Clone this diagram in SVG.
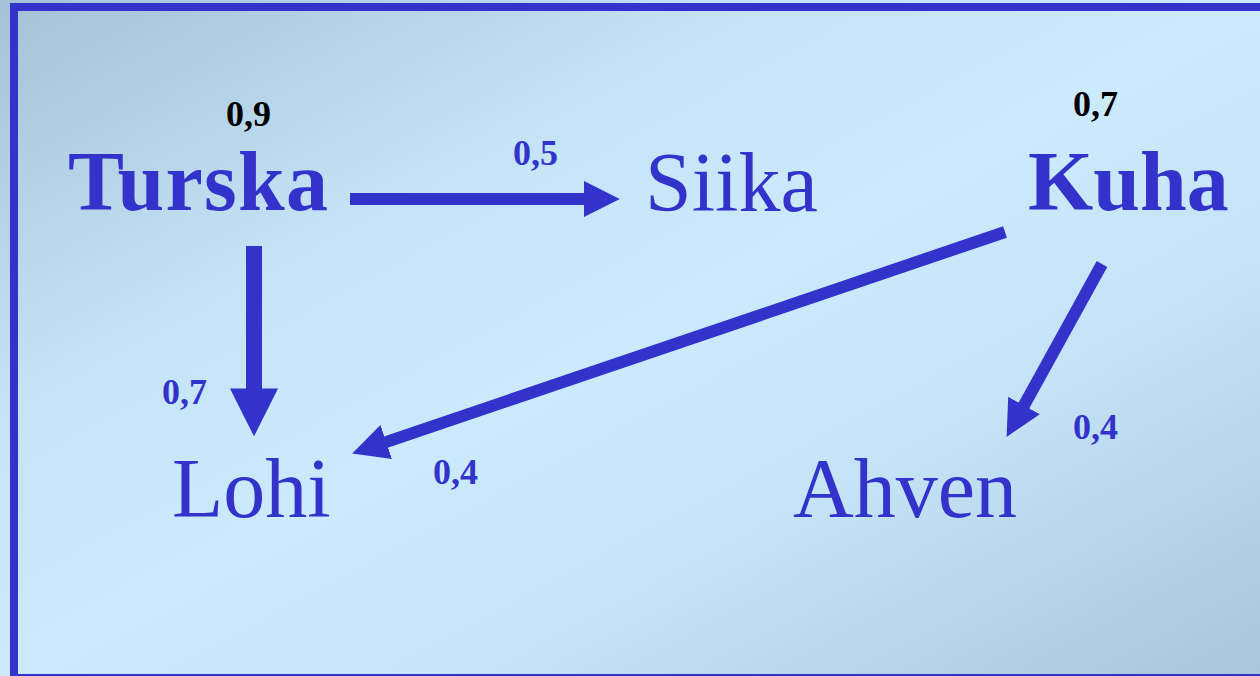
<svg xmlns="http://www.w3.org/2000/svg" width="1260" height="676" viewBox="0 0 1260 676">
  <defs>
    <linearGradient id="bg" x1="0" y1="0" x2="1" y2="1">
      <stop offset="0" stop-color="#a5c1d5"/>
      <stop offset="0.3" stop-color="#c4e3f6"/>
      <stop offset="0.5" stop-color="#cbebfd"/>
      <stop offset="0.7" stop-color="#c4e3f6"/>
      <stop offset="1" stop-color="#a9c5d9"/>
    </linearGradient>
    <marker id="head" markerUnits="strokeWidth" markerWidth="3" markerHeight="3" viewBox="0 0 3 3" refX="0.1" refY="1.5" orient="auto">
      <path d="M0,0 L3,1.5 L0,3 Z" fill="#3333cc"/>
    </marker>
    <style>
      .big { font-family: "Liberation Serif", "Times New Roman", serif; font-size: 84px; fill: #3333cc; }
      .bold { font-weight: bold; }
      .lbl { font-family: "Liberation Serif", "Times New Roman", serif; font-size: 36px; font-weight: bold; fill: #3333cc; }
      .blk { fill: #000000; }
      .conn { stroke: #3333cc; fill: none; marker-end: url(#head); }
    </style>
  </defs>
  <rect x="0" y="0" width="1260" height="676" fill="url(#bg)"/>
  <g id="frame" fill="#3333cc">
    <rect x="10" y="3" width="1250" height="8"/>
    <rect x="10" y="3" width="8" height="673"/>
    <rect x="10" y="674" width="1250" height="2"/>
  </g>

  <g id="connectors">
    <line class="conn" x1="350" y1="199" x2="585" y2="199" stroke-width="12"/>
    <line class="conn" x1="254" y1="246" x2="254" y2="390" stroke-width="16"/>
    <line class="conn" x1="1005" y1="232" x2="385.1" y2="442.4" stroke-width="12"/>
    <line class="conn" x1="1102" y1="264" x2="1023.4" y2="406.5" stroke-width="12"/>
    <text class="lbl" x="513" y="165">0,5</text>
    <text class="lbl" x="162" y="404">0,7</text>
    <text class="lbl" x="433" y="484">0,4</text>
    <text class="lbl" x="1073" y="439">0,4</text>
  </g>

  <g id="turska">
    <text class="big bold" x="68" y="210" textLength="260" lengthAdjust="spacing">Turska</text>
    <text class="lbl blk" x="226" y="126">0,9</text>
  </g>
  <g id="siika">
    <text class="big" x="645" y="211">Siika</text>
  </g>
  <g id="kuha">
    <text class="big bold" x="1028" y="210">Kuha</text>
    <text class="lbl blk" x="1073" y="116">0,7</text>
  </g>
  <g id="lohi">
    <text class="big" x="172" y="517">Lohi</text>
  </g>
  <g id="ahven">
    <text class="big" x="793" y="517">Ahven</text>
  </g>
</svg>
